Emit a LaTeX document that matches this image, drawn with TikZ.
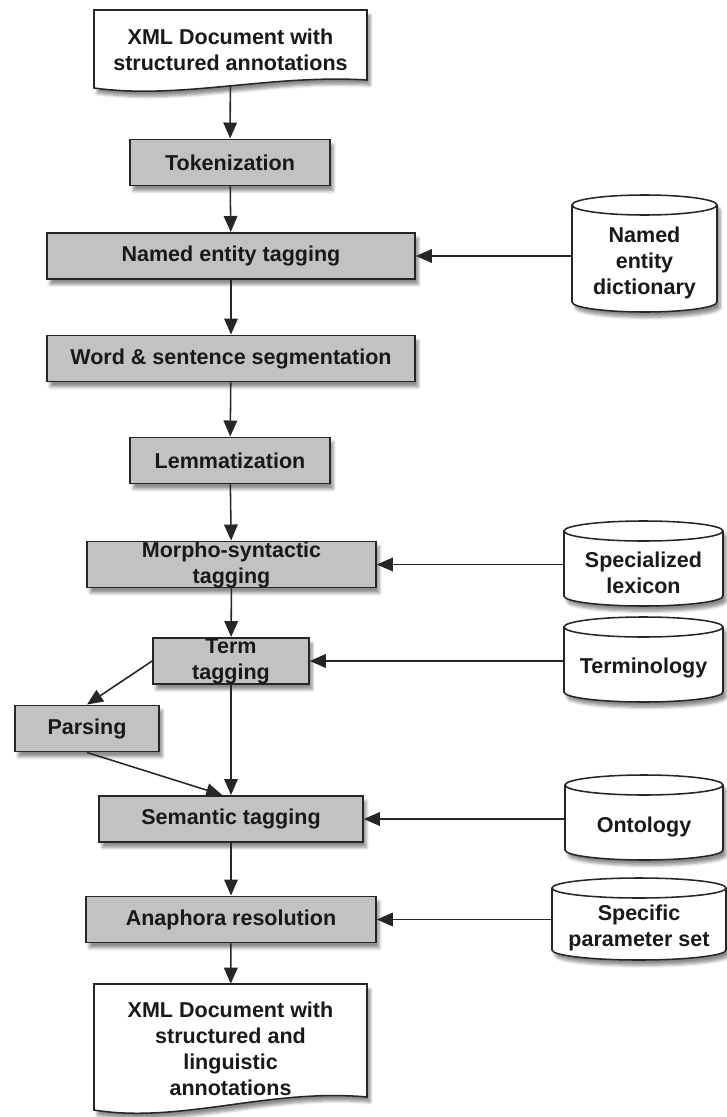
\documentclass[tikz,border=0pt]{standalone}
\usepackage{fontspec}
\setmainfont{Liberation Sans}
\usetikzlibrary{arrows.meta,shadows.blur}
% resource drum: centre x, centre y, half width, half height (px)
\newcommand{\drawdrum}[4]{%
    \draw[store] (#1-#3,#2+#4-10) arc[start angle=180, end angle=0, x radius=#3, y radius=10]
        -- (#1+#3,#2-#4+10) arc[start angle=0, end angle=-180, x radius=#3, y radius=10] -- cycle;
    \draw[storeline] (#1-#3,#2-#4+10) arc[start angle=180, end angle=0, x radius=#3, y radius=10];
}
\begin{document}
\begin{tikzpicture}[x=0.025cm, y=-0.025cm,
        font=\fontsize{15.3}{18.5}\selectfont\bfseries, text=black!90,
        shadowed/.style={blur shadow={shadow xshift=0.08cm, shadow yshift=-0.13cm, shadow blur steps=6, shadow opacity=45}},
        stage/.style={draw=black!85, line width=1.1pt, fill=black!24, shadowed, align=center, inner sep=0pt, minimum height=1.16cm},
        store/.style={draw=black!85, line width=1.1pt, fill=white, shadowed},
        storeline/.style={draw=black!85, line width=1.1pt},
        tag/.style={align=center, inner sep=0pt},
        paper/.style={draw=black!85, line width=1.1pt, fill=white, shadowed},
        flow/.style={line width=1.1pt, draw=black!85, -{Triangle[length=0.4cm, width=0.34cm]}}]
        \useasboundingbox (0,0) rectangle (727,1117);
        % input and output documents
        \draw[paper] (94,10) -- (367,10) -- (367,80) .. controls (270,74) and (180,100) .. (94,88) -- cycle;
        \node[tag, minimum width=6.8cm, minimum height=1.8cm] (indoc) at (230.5,50) {XML Document with\\structured annotations};
        \draw[paper] (94,984) -- (367,984) -- (367,1097) .. controls (270,1088) and (180,1124) .. (94,1110) -- cycle;
        \node[tag, minimum width=6.8cm, minimum height=3.25cm] (outdoc) at (230.5,1049) {XML Document with\\structured and\\linguistic\\annotations};
        % processing stages
        \node[stage, minimum width=5cm] (tok) at (230,162.5) {Tokenization};
        \node[stage, minimum width=9.2cm] (net) at (231,256) {Named entity tagging};
        \node[stage, minimum width=9.2cm] (seg) at (231,358.5) {Word \& sentence segmentation};
        \node[stage, minimum width=5cm] (lem) at (230,460.5) {Lemmatization};
        \node[stage, minimum width=7.225cm] (mst) at (231.5,564.5) {Morpho-syntactic\\tagging};
        \node[stage, minimum width=3.9cm] (trm) at (231,661) {Term\\tagging};
        \node[stage, minimum width=3.6cm] (prs) at (87,728.5) {Parsing};
        \node[stage, minimum width=6.6cm] (sem) at (231,819) {Semantic tagging};
        \node[stage, minimum width=7.25cm] (ana) at (231,919.5) {Anaphora resolution};
        % resources
        \drawdrum{644.5}{253.5}{72.5}{58.5}
        \drawdrum{643.5}{563.5}{79.5}{42.5}
        \drawdrum{643.5}{659.5}{79.5}{42.5}
        \drawdrum{644}{817.5}{79}{42.5}
        \drawdrum{639}{919}{87}{41}
        \node[tag, minimum width=3.62cm] (ned) at (644.5,263) {Named\\entity\\dictionary};
        \node[tag, minimum width=3.97cm] (lex) at (643.5,573) {Specialized\\lexicon};
        \node[tag, minimum width=3.97cm] (ter) at (643.5,668) {Terminology};
        \node[tag, minimum width=3.95cm] (ont) at (644,827) {Ontology};
        \node[tag, minimum width=4.35cm] (par) at (639,928) {Specific\\parameter set};
        % connectors
        \draw[flow] (indoc) -- (tok);
        \foreach \from/\to in {tok/net, net/seg, seg/lem, lem/mst, mst/trm, trm/sem, sem/ana, ana/outdoc}
            \draw[flow] (\from) -- (\to);
        \draw[flow] (trm.west) -- (prs.north);
        \draw[flow] (prs.south) -- ([xshift=-0.22cm]sem.north);
        \foreach \res/\task in {ned/net, lex/mst, ter/trm, ont/sem, par/ana}
            \draw[flow] (\task.east -| \res.west) -- (\task.east);
\end{tikzpicture}
\end{document}
